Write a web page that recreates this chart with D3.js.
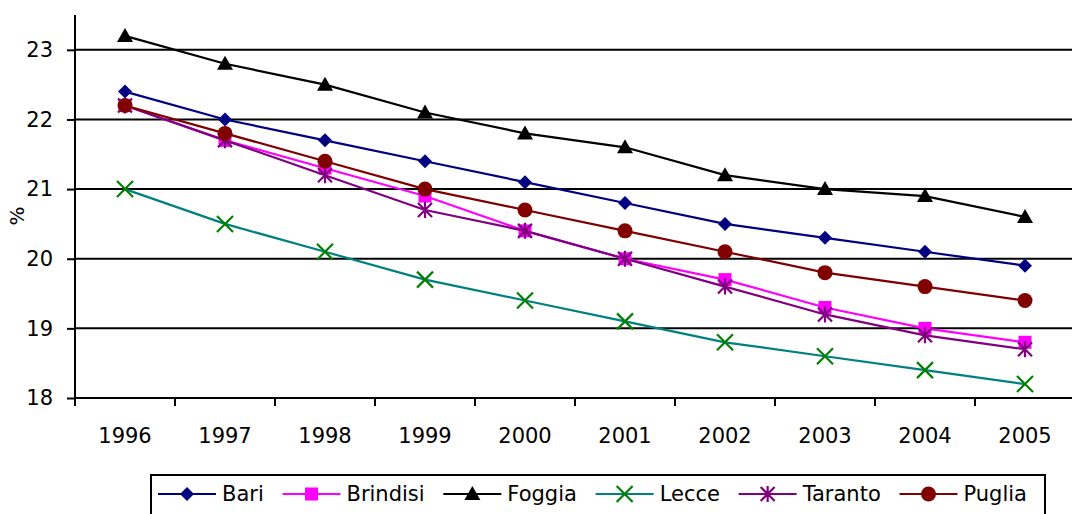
<!DOCTYPE html>
<html><head><meta charset="utf-8">
<script src="https://cdn.jsdelivr.net/npm/d3@7"></script>
<style>body{margin:0;background:#fff}svg{display:block;font-family:"DejaVu Sans",sans-serif}</style>
</head><body><svg id="c" width="1072" height="514"></svg>
<script>
const years = ["1996","1997","1998","1999","2000","2001","2002","2003","2004","2005"];
const yTicks = [18,19,20,21,22,23];
const bari     = [22.4,22.0,21.7,21.4,21.1,20.8,20.5,20.3,20.1,19.9];
const brindisi = [22.2,21.7,21.3,20.9,20.4,20.0,19.7,19.3,19.0,18.8];
const foggia   = [23.2,22.8,22.5,22.1,21.8,21.6,21.2,21.0,20.9,20.6];
const lecce    = [21.0,20.5,20.1,19.7,19.4,19.1,18.8,18.6,18.4,18.2];
const taranto  = [22.2,21.7,21.2,20.7,20.4,20.0,19.6,19.2,18.9,18.7];
const puglia   = [22.2,21.8,21.4,21.0,20.7,20.4,20.1,19.8,19.6,19.4];
const seriesNames = ["Bari","Brindisi","Foggia","Lecce","Taranto","Puglia"];

const series = [
  {name:seriesNames[0], values:bari, line:"#000080", fill:"#000080", marker:"diamond"},
  {name:seriesNames[1], values:brindisi, line:"#FF00FF", fill:"#FF00FF", marker:"square"},
  {name:seriesNames[2], values:foggia, line:"#000000", fill:"#000000", marker:"triangle"},
  {name:seriesNames[3], values:lecce, line:"#008080", fill:"#008000", marker:"x"},
  {name:seriesNames[4], values:taranto, line:"#800080", fill:"#800080", marker:"star"},
  {name:seriesNames[5], values:puglia, line:"#800000", fill:"#800000", marker:"circle"}
];

const svg = d3.select("#c");
const L=75, R=1075, T=15, B=398;
const FS=21;
const x = d3.scaleBand().domain(years).range([L,R]);
const y = d3.scaleLinear().domain([18,23.5]).range([B,T]);

// gridlines
svg.append("g").selectAll("line").data(yTicks).join("line")
  .attr("x1",L).attr("x2",1072).attr("y1",d=>y(d)).attr("y2",d=>y(d))
  .attr("stroke","#000").attr("stroke-width",2);

// y axis
const ya = svg.append("g").attr("transform",`translate(${L},0)`)
  .call(d3.axisLeft(y).tickValues(yTicks).tickFormat(d3.format("d")).tickSize(8).tickSizeOuter(0).tickPadding(14));
ya.select(".domain").attr("stroke","#000").attr("stroke-width",2).attr("d",`M0,${T}V${B}`);
ya.selectAll(".tick line").attr("stroke","#000").attr("stroke-width",2);
ya.selectAll("text").attr("font-size",FS).attr("fill","#000").attr("font-family","DejaVu Sans");

// x axis
const xa = svg.append("g").attr("transform",`translate(0,${B})`)
  .call(d3.axisBottom(x).tickSize(0).tickPadding(30));
xa.select(".domain").remove();
xa.selectAll("text").attr("font-size",FS).attr("fill","#000").attr("font-family","DejaVu Sans");
const bounds = years.map(d=>x(d)).concat([R]);
svg.append("g").selectAll("line").data(bounds).join("line")
  .attr("x1",d=>d).attr("x2",d=>d).attr("y1",B).attr("y2",B+8)
  .attr("stroke","#000").attr("stroke-width",2);
svg.append("line").attr("x1",L).attr("x2",1072).attr("y1",B).attr("y2",B).attr("stroke","#000").attr("stroke-width",2);

// y label
svg.append("text").attr("transform","translate(24,216) rotate(-90)")
  .attr("text-anchor","middle").attr("font-size",20).text("%");

function drawMarker(g, type, cx, cy, s){
  const c = s;
  if(type==="diamond"){
    g.append("path").attr("d",`M${cx},${cy-7}L${cx+7},${cy}L${cx},${cy+7}L${cx-7},${cy}Z`).attr("fill",c.fill);
  } else if(type==="square"){
    g.append("rect").attr("x",cx-6.5).attr("y",cy-6.5).attr("width",13).attr("height",13).attr("fill",c.fill);
  } else if(type==="triangle"){
    g.append("path").attr("d",`M${cx},${cy-8}L${cx+8},${cy+6}L${cx-8},${cy+6}Z`).attr("fill",c.fill);
  } else if(type==="x"){
    g.append("path").attr("d",`M${cx-8},${cy-8}L${cx+8},${cy+8}M${cx-8},${cy+8}L${cx+8},${cy-8}`).attr("stroke",c.fill).attr("stroke-width",2.2);
  } else if(type==="star"){
    g.append("path").attr("d",`M${cx-7},${cy-7}L${cx+7},${cy+7}M${cx-7},${cy+7}L${cx+7},${cy-7}M${cx},${cy-8}L${cx},${cy+8}`).attr("stroke",c.fill).attr("stroke-width",2.2);
  } else if(type==="circle"){
    g.append("circle").attr("cx",cx).attr("cy",cy).attr("r",7.5).attr("fill",c.fill);
  }
}

const line = d3.line().x((d,i)=>x(years[i])+x.bandwidth()/2).y(d=>y(d));
series.forEach(s=>{
  const g = svg.append("g");
  g.append("path").datum(s.values).attr("d",line).attr("fill","none").attr("stroke",s.line).attr("stroke-width",2.2);
  s.values.forEach((v,i)=>drawMarker(g,s.marker,x(years[i])+x.bandwidth()/2,y(v),s));
});

// legend
const lg = svg.append("g");
const boxL=151, boxR=1045, boxT=475, ly=494;
lg.append("rect").attr("x",boxL).attr("y",boxT).attr("width",boxR-boxL).attr("height",50)
  .attr("fill","#fff").attr("stroke","#000").attr("stroke-width",2);
let items=[];
series.forEach(s=>{
  const it = lg.append("g");
  it.append("line").attr("x1",0).attr("x2",58).attr("y1",0).attr("y2",0).attr("stroke",s.line).attr("stroke-width",2.2);
  drawMarker(it,s.marker,29,0,s);
  const t = it.append("text").attr("x",64).attr("y",7).attr("font-size",FS).text(s.name);
  const w = 64 + t.node().getComputedTextLength();
  items.push({it,w});
});
const innerL = boxL+7, innerR = boxR-18;
const gap = (innerR-innerL - d3.sum(items,d=>d.w))/(items.length-1);
let start = innerL;
items.forEach(d=>{ d.it.attr("transform",`translate(${start},${ly})`); start += d.w+gap; });
</script></body></html>
